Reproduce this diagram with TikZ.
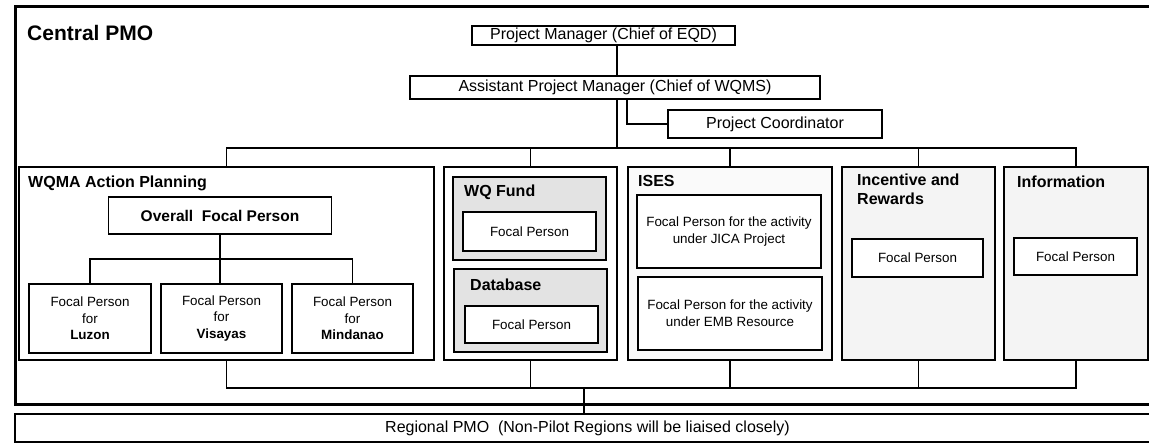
\documentclass[tikz,border=0pt]{standalone}
\usepackage{fontspec}
\setmainfont{Liberation Sans}
\begin{document}
\begin{tikzpicture}[x=1pt,y=-1pt,
  box/.style={draw, line width=1.4pt, inner sep=1pt, align=center, fill=white},
  main/.style={font=\fontsize{16}{19}\selectfont},
  small/.style={font=\fontsize{13.4}{16.5}\selectfont},
  ises/.style={font=\fontsize{13.4}{17}\selectfont},
  ttl/.style={font=\fontsize{16}{19}\selectfont\bfseries, anchor=west, inner sep=0pt, align=left},
  col/.style={draw, line width=1.5pt, inner sep=0pt},
  conn/.style={line width=1.5pt},
]
\useasboundingbox (0,0) rectangle (1149,444);
\clip (0,0) rectangle (1149,444);
\fill[white] (0,0) rectangle (1149,444);

% Central PMO frame
\node[col, line width=3pt, minimum width=1145, minimum height=397] (central) at (587.5,205.5) {};
\node[anchor=west, inner sep=0pt, font=\fontsize{21}{24}\selectfont\bfseries] (ctitle) at (27,33) {Central PMO};

% top hierarchy
\node[box, main, minimum width=263, minimum height=19] (pm) at (603.5,35.5) {Project Manager (Chief of EQD)};
\node[box, main, minimum width=410, minimum height=23] (ap) at (615,87.5) {Assistant Project Manager (Chief of WQMS)};
\node[box, main, minimum width=214, minimum height=28] (pc) at (775,124) {Project Coordinator};

\coordinate (trunk) at (617,148);
\coordinate (apc) at (627,124);
\coordinate (busT) at (0,148);
\coordinate (busB) at (0,388);
\coordinate (cdrop) at (584,388);

\draw[conn] (pm.south -| trunk) -- (ap.north -| trunk);
\draw[conn] (ap.south -| trunk) -- (trunk);
\draw[conn] (ap.south -| apc) |- (pc.west);

% columns
\node[col, fill=white, minimum width=415, minimum height=193] (wqma) at (226.5,263.5) {};
\node[col, fill=white, minimum width=173, minimum height=193] (wqcol) at (530.5,263.5) {};
\node[col, fill=gray!4, minimum width=204, minimum height=193] (isescol) at (730,263.5) {};
\node[col, fill=gray!9, minimum width=153, minimum height=193] (inccol) at (918.5,263.5) {};
\node[col, fill=gray!9, minimum width=144, minimum height=193] (infocol) at (1076,263.5) {};

% top bus
\draw[conn] (wqma.north) -- (wqma.north |- busT) -- (infocol.north |- busT) -- (infocol.north);
\draw[conn] (wqcol.north) -- (wqcol.north |- busT);
\draw[conn] (isescol.north) -- (isescol.north |- busT);
\draw[conn] (inccol.north) -- (inccol.north |- busT);

% bottom bus
\draw[conn] (wqma.south) -- (wqma.south |- busB) -- (infocol.south |- busB) -- (infocol.south);
\draw[conn] (wqcol.south) -- (wqcol.south |- busB);
\draw[conn] (isescol.south) -- (isescol.south |- busB);
\draw[conn] (inccol.south) -- (inccol.south |- busB);

% WQMA Action Planning
\node[ttl] (wqmat) at (28,183) {WQMA Action Planning};
\node[box, minimum width=223, minimum height=37, font=\fontsize{15.5}{18}\selectfont\bfseries] (ofp) at (220,215.5) {Overall\ \ Focal Person};
\node[box, small, minimum width=122, minimum height=69] (luzon) at (90,318.5) {Focal Person\\for\\\textbf{Luzon}};
\node[box, small, minimum width=121, minimum height=69] (visayas) at (221.5,318.5) {Focal Person\\for\\\textbf{Visayas}};
\node[box, small, minimum width=121, minimum height=69] (mindanao) at (352.5,318.5) {Focal Person\\for\\\textbf{Mindanao}};
\coordinate (wj) at (0,259);
\draw[conn] (ofp.south) -- (ofp.south |- visayas.north);
\draw[conn] (luzon.north) -- (luzon.north |- wj) -- (mindanao.north |- wj) -- (mindanao.north);

% WQ Fund / Database
\node[col, line width=1.4pt, fill=gray!22, minimum width=153, minimum height=83] (wqf) at (529.5,218.5) {};
\node[ttl] (wqft) at (464,192) {WQ Fund};
\node[box, small, minimum width=133, minimum height=39] (wqffp) at (529.5,231.5) {Focal Person};
\node[col, line width=1.4pt, fill=gray!22, minimum width=153, minimum height=83] (db) at (530.5,310.5) {};
\node[ttl] (dbt) at (470,285) {Database};
\node[box, small, minimum width=133, minimum height=37] (dbfp) at (531.5,324.5) {Focal Person};

% ISES
\node[ttl] (isest) at (638,181) {ISES};
\node[box, ises, minimum width=184, minimum height=73] (ises1) at (729,231.5) {Focal Person for the activity\\under JICA Project};
\node[box, ises, minimum width=184, minimum height=73] (ises2) at (730,313.5) {Focal Person for the activity\\under EMB Resource};

% Incentive and Rewards
\node[ttl] (inct) at (857,189.5) {Incentive and\\Rewards};
\node[box, small, minimum width=131, minimum height=38] (incfp) at (917.5,258) {Focal Person};

% Information
\node[ttl] (infot) at (1017,182) {Information};
\node[box, small, minimum width=123, minimum height=37] (infofp) at (1075.5,256.5) {Focal Person};

% Regional PMO
\node[box, main, minimum width=1145, minimum height=28] (reg) at (587.5,428) {Regional PMO\ \ (Non-Pilot Regions will be liaised closely)};
\draw[conn] (cdrop) -- (reg.north -| cdrop);
\end{tikzpicture}
\end{document}
